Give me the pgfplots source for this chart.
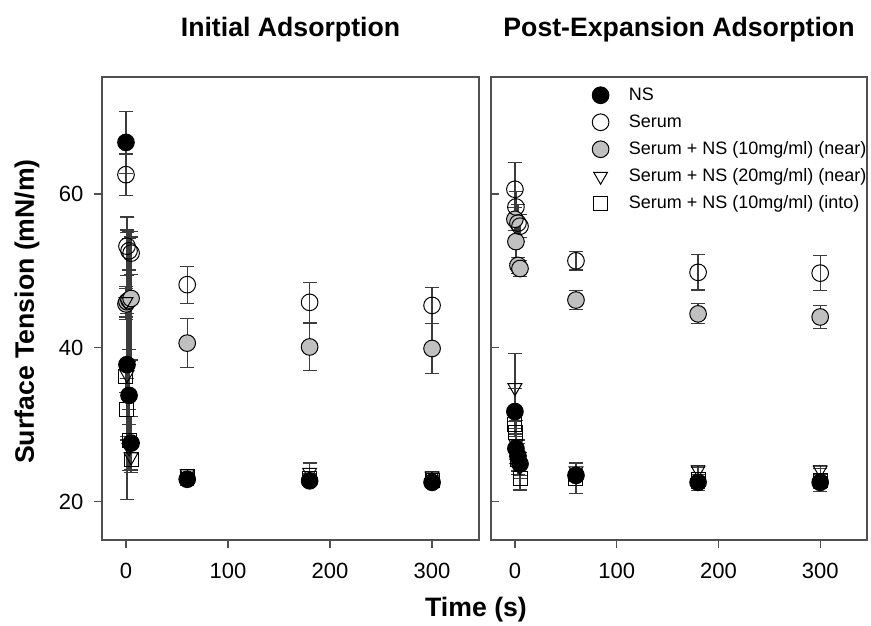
\documentclass[border=0pt]{standalone}
\usepackage{fontspec}
\setmainfont{Liberation Sans}
\usepackage{pgfplots}
\usepackage{pgfplotstable}
\pgfplotsset{compat=1.18}

\definecolor{fillgray}{RGB}{192,192,192}
\definecolor{axgray}{RGB}{80,80,80}
\definecolor{ebgray}{RGB}{60,60,60}

% initial adsorption: t, NS, err, serum, err, +NS10 near, err, +NS20 near, err, +NS10 into, err
\pgfplotstableread{
t   ns    nse   se    see  g     ge   tr    tre  sq    sqe
0   66.7  4.0   62.5  2.7  45.7  2.0  46.0  2.0  36.2  2.0
1   37.8  17.5  53.2  3.8  46.0  9.0  36.5  8.0  32.0  4.0
3   33.8  6.0   52.6  2.5  46.2  8.0  27.0  3.0  28.0  4.0
5   27.6  3.5   52.3  2.8  46.4  8.0  25.8  2.0  25.5  1.5
60  22.9  0.8   48.2  2.4  40.6  3.2  23.6  0.6  23.2  0.6
180 22.7  0.6   45.9  2.6  40.1  3.1  23.8  1.2  23.0  0.6
300 22.5  0.6   45.5  2.3  39.9  3.3  23.3  0.6  22.8  0.6
}\initial

% post-expansion adsorption
\pgfplotstableread{
t   ns    nse   se    see  g     ge   tr    tre  sq    sqe
0   31.7  3.0   60.6  3.5  56.7  1.5  34.8  4.4  30.0  1.5
1   26.9  2.0   58.3  2.0  53.8  2.8  27.5  2.0  29.0  1.5
3   25.9  2.0   56.2  2.4  50.7  1.0  26.0  2.0  25.5  2.0
5   24.9  1.5   55.8  1.5  50.3  1.0  24.5  1.5  23.0  1.5
60  23.4  0.8   51.3  1.2  46.2  1.2  24.0  1.0  23.0  2.0
180 22.5  0.8   49.8  2.3  44.4  1.3  24.1  0.6  22.9  1.5
300 22.5  0.8   49.7  2.3  44.0  1.5  24.1  0.6  22.8  1.5
}\postexp

\pgfplotsset{
  panel/.style={
    scale only axis,
    width=282.75pt, height=347.25pt,
    xmin=-23.5, xmax=346, ymin=15, ymax=75.2,
    xtick={0,100,200,300}, ytick={20,40,60},
    xtick pos=bottom, ytick pos=left,
    axis line style={draw=axgray, line width=0.9pt},
    tick style={draw=axgray, line width=0.9pt},
    major tick length=6pt,
    /pgf/number format/assume math mode=true,
    ticklabel style={font=\fontsize{16.5}{16.5}\selectfont},
    xticklabel style={yshift=-8pt},
    yticklabel style={xshift=-4.5pt},
    title style={font=\bfseries\fontsize{20}{20}\selectfont, at={(0.5,1)}, anchor=center, yshift=29.25pt},
    only marks,
    error bars/y dir=both, error bars/y explicit,
    error bars/error bar style={draw=ebgray, line width=0.9pt},
    error bars/error mark options={draw=ebgray, line width=0.9pt, mark size=5.25pt, rotate=90},
  },
  sns/.style={mark=*, mark size=6.25pt, mark options={draw=black, fill=black, line width=0.75pt}},
  sse/.style={mark=o, mark size=6.25pt, mark options={draw=black, line width=0.75pt}},
  sg/.style={mark=*, mark size=6.25pt, mark options={draw=black, fill=fillgray, line width=0.75pt}},
  str/.style={mark=triangle, mark size=6pt, mark options={draw=black, rotate=180, line width=0.75pt}},
  ssq/.style={mark=square, mark size=5.25pt, mark options={draw=black, line width=0.75pt}},
}

\begin{document}
\begin{tikzpicture}
\useasboundingbox (0,0) rectangle (653.25pt,-468.75pt);

\begin{axis}[panel, at={(76.5pt,-405pt)}, anchor=south west,
    tick align=outside, title={Initial Adsorption}]
\addplot+[sg]  table[x=t, y=g,  y error=ge]  {\initial};
\addplot+[str] table[x=t, y=tr, y error=tre] {\initial};
\addplot+[ssq] table[x=t, y=sq, y error=sqe] {\initial};
\addplot+[sse] table[x=t, y=se, y error=see] {\initial};
\addplot+[sns] table[x=t, y=ns, y error=nse] {\initial};
\end{axis}

\begin{axis}[panel, at={(368.25pt,-405pt)}, anchor=south west, width=282pt,
    xtick align=outside, ytick align=inside,
    yticklabels={}, title={Post-Expansion Adsorption},
    legend style={at={(0.2686,0.9806)}, anchor=north west, draw=none, fill=none,
      inner sep=0pt, font=\fontsize{13.5}{13.5}\selectfont, row sep=6.75pt, column sep=15pt,
      nodes={inner sep=0pt, text height=10.5pt, text depth=3pt}},
    legend cell align=left]
\addplot+[sg, forget plot]  table[x=t, y=g,  y error=ge]  {\postexp};
\addplot+[str, forget plot] table[x=t, y=tr, y error=tre] {\postexp};
\addplot+[ssq, forget plot] table[x=t, y=sq, y error=sqe] {\postexp};
\addplot+[sse, forget plot] table[x=t, y=se, y error=see] {\postexp};
\addplot+[sns, forget plot] table[x=t, y=ns, y error=nse] {\postexp};
% legend entries
\addlegendimage{only marks, sns}
\addlegendentry{NS}
\addlegendimage{only marks, sse}
\addlegendentry{Serum}
\addlegendimage{only marks, sg}
\addlegendentry{Serum + NS (10mg/ml) (near)}
\addlegendimage{only marks, str}
\addlegendentry{Serum + NS (20mg/ml) (near)}
\addlegendimage{only marks, ssq}
\addlegendentry{Serum + NS (10mg/ml) (into)}
\end{axis}

\node[rotate=90, font=\bfseries\fontsize{20}{20}\selectfont] at (20.25pt,-233.6pt) {Surface Tension (mN/m)};
\node[font=\bfseries\fontsize{20}{20}\selectfont] at (357pt,-457.5pt) {Time (s)};
\end{tikzpicture}
\end{document}
